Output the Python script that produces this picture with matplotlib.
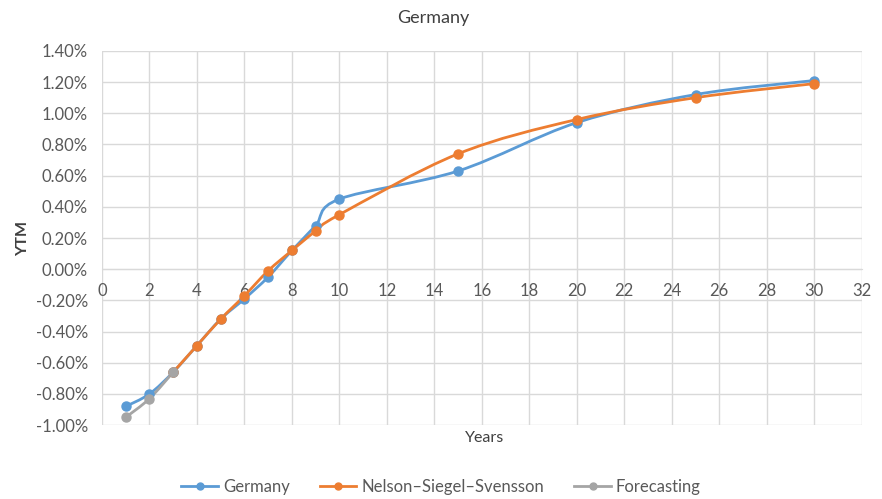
import matplotlib
matplotlib.use("Agg")
import matplotlib.pyplot as plt
from matplotlib.path import Path
from matplotlib.patches import PathPatch
from matplotlib.lines import Line2D
from matplotlib.ticker import FuncFormatter, MultipleLocator

plt.rcParams['font.family'] = ['Lato', 'DejaVu Sans']

# data (YTM in %)
germany_x = [1, 2, 3, 4, 5, 6, 7, 8, 9, 10, 15, 20, 25, 30]
germany_y = [-0.88, -0.80, -0.66, -0.49, -0.32, -0.19, -0.05, 0.12, 0.28, 0.45, 0.63, 0.94, 1.12, 1.21]
nss_x = [3, 4, 5, 6, 7, 8, 9, 10, 15, 20, 25, 30]
nss_y = [-0.66, -0.49, -0.32, -0.17, -0.01, 0.12, 0.245, 0.35, 0.74, 0.96, 1.10, 1.19]
fc_x = [1, 2, 3]
fc_y = [-0.95, -0.83, -0.66]

BLUE = '#5B9BD5'
ORANGE = '#ED7D31'
GREY = '#A5A5A5'
TXT = '#595959'


def smooth_path(xs, ys):
    # excel-style smoothed line: cubic bezier segments with catmull-rom handles
    verts = [(xs[0], ys[0])]
    codes = [Path.MOVETO]
    n = len(xs)
    for i in range(n - 1):
        p0 = (xs[max(i - 1, 0)], ys[max(i - 1, 0)])
        p1 = (xs[i], ys[i])
        p2 = (xs[i + 1], ys[i + 1])
        p3 = (xs[min(i + 2, n - 1)], ys[min(i + 2, n - 1)])
        c1 = (p1[0] + (p2[0] - p0[0]) / 6, p1[1] + (p2[1] - p0[1]) / 6)
        c2 = (p2[0] - (p3[0] - p1[0]) / 6, p2[1] - (p3[1] - p1[1]) / 6)
        verts += [c1, c2, p2]
        codes += [Path.CURVE4] * 3
    return Path(verts, codes)


fig = plt.figure(figsize=(8.82, 4.99), dpi=100)
ax = fig.add_axes([0.1156, 0.148, 0.8614, 0.75])

for xs, ys, c in [(germany_x, germany_y, BLUE), (nss_x, nss_y, ORANGE), (fc_x, fc_y, GREY)]:
    ax.add_patch(PathPatch(smooth_path(xs, ys), fill=False, edgecolor=c, lw=2, zorder=3))
    ax.plot(xs, ys, 'o', color=c, ms=6.5, zorder=4)

ax.set_xlim(0, 32)
ax.set_ylim(-1.0, 1.4)
ax.xaxis.set_major_locator(MultipleLocator(2))
ax.yaxis.set_major_locator(MultipleLocator(0.2))
ax.yaxis.set_major_formatter(FuncFormatter(lambda v, p: f"{v:.2f}%"))
ax.grid(True, color='#D9D9D9', lw=1)
ax.set_axisbelow(True)
for s in ['top', 'right', 'left']:
    ax.spines[s].set_visible(False)
ax.spines['bottom'].set_position(('data', 0))
ax.spines['bottom'].set_color('#D9D9D9')
ax.tick_params(axis='both', length=0, labelsize=12, labelcolor=TXT)
ax.tick_params(axis='x', pad=10)
ax.tick_params(axis='y', pad=10)

fig.text(0.491, 0.964, 'Germany', ha='center', va='center', fontsize=13, color='#404040')
fig.text(0.549, 0.122, 'Years', ha='center', va='center', fontsize=11.5, color='#404040')
ax.set_ylabel('YTM', fontsize=11.5, color='#404040', fontweight='bold', labelpad=4)

handles = [Line2D([], [], color=c, lw=2, marker='o', ms=5) for c in (BLUE, ORANGE, GREY)]
fig.legend(handles, ['Germany', 'Nelson–Siegel–Svensson', 'Forecasting'], loc='center',
           bbox_to_anchor=(0.5, 0.025), ncol=3, frameon=False, fontsize=12,
           labelcolor=TXT, handlelength=2.2, handletextpad=0.3, columnspacing=1.8)

fig.savefig('out.png', dpi=100)
